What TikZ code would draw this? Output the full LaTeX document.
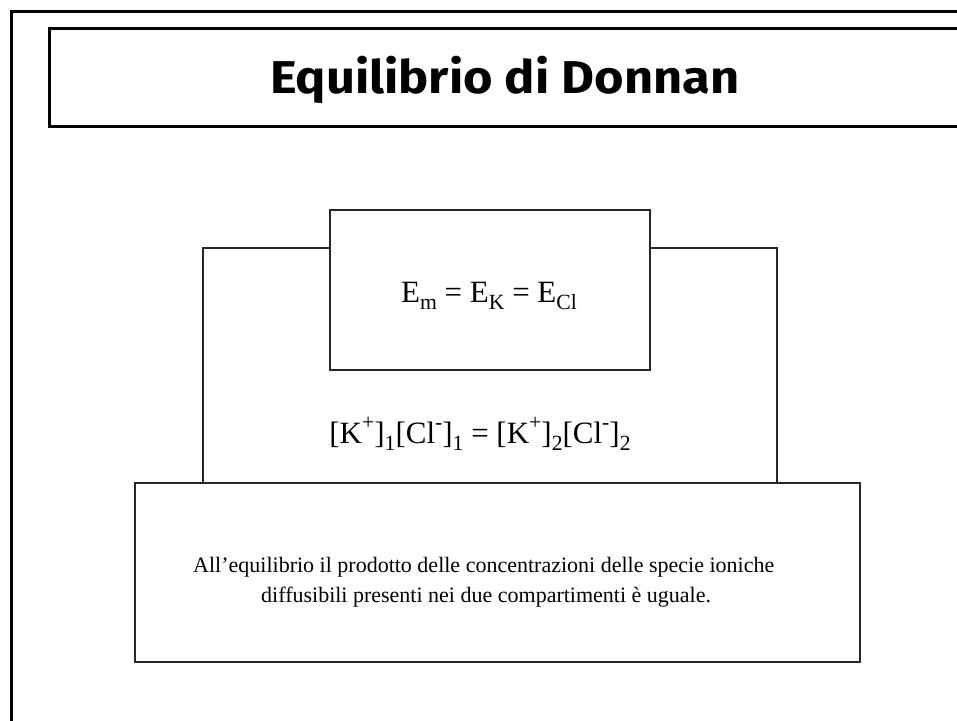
\documentclass[tikz,border=0pt]{standalone}
\usepackage{fontspec}
\setmainfont{Liberation Serif}
\newfontfamily\titlefont{Fira Sans}
\newcommand\lo[1]{\raisebox{-0.24em}{\scalebox{0.7}{#1}}}
\newcommand\hi[1]{\raisebox{0.42em}{\scalebox{0.7}{#1}}}
\tikzset{
  frame/.style={line width=3pt, draw=black},
  thinbox/.style={draw=black!85, line width=1.1pt, fill=white, inner sep=0pt},
  eq/.style={font=\fontsize{31}{36}\selectfont, inner sep=0pt},
  body/.style={font=\fontsize{22}{30}\selectfont, align=left, inner sep=0pt},
}
\begin{document}
\begin{tikzpicture}[x=1pt,y=-1pt]
\useasboundingbox (0,0) rectangle (957,720);
\coordinate (fbl) at (11,722);
\coordinate (ftl) at (11,11);
\coordinate (ftr) at (960,11);
\draw[frame] (fbl) -- (ftl) -- (ftr);
\coordinate (ttr) at (960,28);
\coordinate (ttl) at (49,28);
\coordinate (tbl) at (49,126);
\coordinate (tbr) at (960,126);
\draw[frame] (ttr) -- (ttl) -- (tbl) -- (tbr);
\node[anchor=base west, inner sep=0pt] (title) at (270,93) {\scalebox{1.1}[1]{\titlefont\bfseries\fontsize{46}{52}\selectfont Equilibrio di Donnan}};
\node[thinbox, minimum width=574pt, minimum height=235pt] (ubox) at (490,365.5) {};
\node[thinbox, minimum width=320pt, minimum height=160pt] (topbox) at (490,290) {};
\node[thinbox, minimum width=725pt, minimum height=179pt] (lowbox) at (497.5,572.5) {};
\node[eq, anchor=base] (eqone) at (489,302) {E\lo{m} = E\lo{K} = E\lo{Cl}};
\node[eq, anchor=base] (eqtwo) at (480,443) {[K\hi{+}]\lo{1}[Cl\hi{-}]\lo{1} = [K\hi{+}]\lo{2}[Cl\hi{-}]\lo{2}};
\node[body, anchor=west] (txt) at (193,582) {All’equilibrio il prodotto delle concentrazioni delle specie ioniche\\\hspace*{68pt}diffusibili presenti nei due compartimenti è uguale.};
\end{tikzpicture}
\end{document}
